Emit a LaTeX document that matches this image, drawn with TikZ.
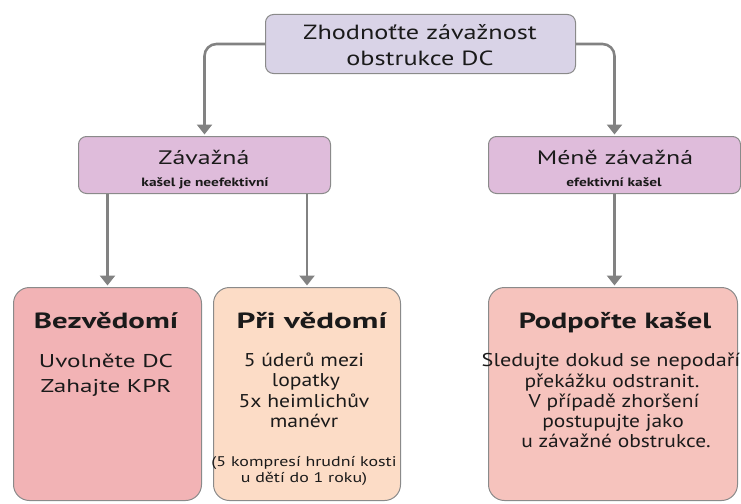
\documentclass[tikz,border=0pt]{standalone}
\usepackage{fontspec}
\setmainfont{PT Sans}
\usetikzlibrary{arrows.meta}
\definecolor{topfill}{HTML}{D9D3E7}
\definecolor{midfill}{HTML}{DFBCDB}
\definecolor{bezfill}{HTML}{F2B3B5}
\definecolor{prifill}{HTML}{FCDCC6}
\definecolor{podfill}{HTML}{F6C3BD}
\definecolor{edge}{HTML}{8A8A8A}
\definecolor{conncol}{HTML}{828282}
\definecolor{txt}{HTML}{1A1A1A}
\tikzset{
  boxbase/.style={draw=edge, line width=1pt, inner sep=0pt, anchor=north west},
  conn/.style={draw=conncol, line width=2.6pt, -{Triangle[width=15pt,length=10pt]}, shorten >=1.5pt},
  lbl/.style={text=txt, inner sep=0pt, anchor=base, xscale=#1, transform shape},
  lbl/.default=1.25,
  ttl/.style={font=\bfseries\fontsize{22}{25}\selectfont},
  body/.style={font=\fontsize{18.5}{22}\selectfont},
  small/.style={font=\fontsize{14}{16}\selectfont}
}
\begin{document}
\begin{tikzpicture}[x=1pt,y=-1pt]
\useasboundingbox (0,0) rectangle (741,503);
% boxes
\node[boxbase, fill=topfill, rounded corners=8pt, minimum width=310pt, minimum height=59pt] (top) at (265,14) {};
\node[boxbase, fill=midfill, rounded corners=8pt, minimum width=252pt, minimum height=57pt] (zav) at (78,136) {};
\node[boxbase, fill=midfill, rounded corners=8pt, minimum width=252pt, minimum height=57pt] (mene) at (488,136) {};
\node[boxbase, fill=bezfill, rounded corners=16pt, minimum width=188pt, minimum height=213pt] (bez) at (13,287) {};
\node[boxbase, fill=prifill, rounded corners=16pt, minimum width=187pt, minimum height=213pt] (pri) at (213,287) {};
\node[boxbase, fill=podfill, rounded corners=16pt, minimum width=249pt, minimum height=213pt] (pod) at (488,287) {};
% connectors
\draw[conn, rounded corners=12pt] (top.west) -| (zav.north);
\draw[conn, rounded corners=12pt] (top.east) -| (mene.north);
\draw[conn] (bez.north |- zav.south) -- (bez.north);
\draw[conn] (pri.north |- zav.south) -- (pri.north);
\draw[conn] (mene.south) -- (mene.south |- pod.north);
% texts
\node[lbl=1.28, font=\fontsize{20.5}{25}\selectfont] (top1) at (420,40) {Zhodnoťte závažnost};
\node[lbl=1.28, font=\fontsize{20.5}{25}\selectfont] (top2) at (420,66) {obstrukce DC};
\node[lbl=1.33, font=\fontsize{19.5}{22}\selectfont] (zavt) at (204,164) {Závažná};
\node[lbl=1.28, font=\bfseries\fontsize{12}{14}\selectfont] (zavs) at (205,186) {kašel je neefektivní};
\node[lbl=1.33, font=\fontsize{19.5}{22}\selectfont] (menet) at (615,164) {Méně závažná};
\node[lbl=1.28, font=\bfseries\fontsize{12}{14}\selectfont] (menes) at (614,186) {efektivní kašel};
\node[lbl=1.4, ttl] (bezt) at (106,328) {Bezvědomí};
\node[lbl=1.36, body] (bez1) at (106,367) {Uvolněte DC};
\node[lbl=1.36, body] (bez2) at (106,392) {Zahajte KPR};
\node[lbl=1.5, ttl] (prit) at (312,328) {Při vědomí};
\node[lbl=1.17, body] (pri1) at (304,366) {5 úderů mezi};
\node[lbl=1.17, body] (pri2) at (306,386.5) {lopatky};
\node[lbl=1.17, body] (pri3) at (304,407) {5x heimlichův};
\node[lbl=1.17, body] (pri4) at (304,427.5) {manévr};
\node[lbl=1.28, small] (pri5) at (304,466) {(5 kompresí hrudní kosti};
\node[lbl=1.28, small] (pri6) at (304,482) {u dětí do 1 roku)};
\node[lbl=1.37, ttl] (podt) at (615,328) {Podpořte kašel};
\node[lbl=1.2, body] (pod1) at (611,366.5) {Sledujte dokud se nepodaří};
\node[lbl=1.16, body] (pod2) at (612,387) {překážku odstranit.};
\node[lbl=1.16, body] (pod3) at (614,407) {V případě zhoršení};
\node[lbl=1.16, body] (pod4) at (613,427) {postupujte jako};
\node[lbl=1.16, body] (pod5) at (616,447) {u závažné obstrukce.};
\end{tikzpicture}
\end{document}
